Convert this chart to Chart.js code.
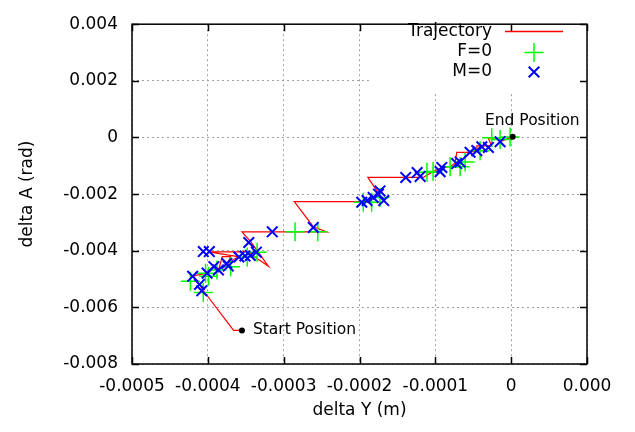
<!DOCTYPE html>
<html><head><meta charset="utf-8">
<script src="https://cdn.jsdelivr.net/npm/chart.js@4.4.0/dist/chart.umd.min.js"></script>
<style>html,body{margin:0;padding:0;background:#fff}#wrap{width:635px;height:432px}</style>
</head><body><div id="wrap"><canvas id="c" width="635" height="432"></canvas></div>
<script>
// ---- data ----
const trajX = [-0.000355,-0.000366,-0.000406,-0.000411,-0.000419,-0.000401,-0.000393,-0.000386,-0.000381,-0.000370,-0.000374,-0.000360,-0.000399,-0.000348,-0.000320,-0.000344,-0.000355,-0.000243,-0.000261,-0.000286,-0.000195,-0.000183,-0.000173,-0.000177,-0.000189,-0.000116,-0.000103,-0.0000924,-0.0000805,-0.0000739,-0.0000717,-0.0000542,-0.0000449,-0.0000453,-0.0000256,-0.0000304,-0.0000146,-0.0000146,0.000002];
const trajY = [-0.006815,-0.006815,-0.005405,-0.005200,-0.004893,-0.004791,-0.004552,-0.004688,-0.004210,-0.004210,-0.004449,-0.004210,-0.004040,-0.004040,-0.004552,-0.003664,-0.003333,-0.003333,-0.003152,-0.002264,-0.002264,-0.002162,-0.001923,-0.001889,-0.001411,-0.001411,-0.001206,-0.001070,-0.001035,-0.000899,-0.000523,-0.000523,-0.000455,-0.000295,-0.000295,-0.000011,-0.000011,-0.000148,0.000023];
const fX = [-0.000423,-0.000406,-0.000403,-0.000399,-0.000388,-0.000370,-0.000348,-0.000335,-0.000285,-0.000255,-0.000195,-0.000184,-0.000173,-0.000111,-0.000103,-0.0000805,-0.0000673,-0.0000607,-0.0000410,-0.0000256,-0.0000146,-0.0000014];
const fY = [-0.005074,-0.005474,-0.004791,-0.004903,-0.004678,-0.004562,-0.004221,-0.004050,-0.003333,-0.003333,-0.002288,-0.002288,-0.002118,-0.001230,-0.001206,-0.001035,-0.001035,-0.000865,-0.000465,-0.000011,-0.000069,0.000013];
const mX = [-0.000420,-0.000411,-0.000408,-0.000401,-0.000406,-0.000398,-0.000392,-0.000386,-0.000375,-0.000373,-0.000359,-0.000351,-0.000346,-0.000344,-0.000336,-0.000315,-0.000261,-0.000197,-0.000190,-0.000182,-0.000175,-0.000173,-0.000168,-0.000139,-0.000124,-0.000120,-0.0000937,-0.0000915,-0.0000717,-0.0000673,-0.0000542,-0.0000453,-0.0000387,-0.0000300,-0.0000146];
const mY = [-0.004903,-0.005190,-0.005416,-0.004791,-0.004029,-0.004029,-0.004562,-0.004678,-0.004449,-0.004542,-0.004221,-0.004186,-0.003709,-0.004166,-0.004050,-0.003333,-0.003176,-0.002288,-0.002230,-0.002118,-0.002002,-0.001889,-0.002230,-0.001411,-0.001240,-0.001377,-0.001206,-0.001059,-0.000923,-0.000865,-0.000523,-0.000465,-0.000329,-0.000353,-0.000148];
const posX = [-0.000355, 0.000002];
const posY = [-0.006815, 0.000023];
const posLabels = ['Start Position', 'End Position'];
const xTickValues = [-0.0005,-0.0004,-0.0003,-0.0002,-0.0001,0,0.0001];
const xTickLabels = ['-0.0005','-0.0004','-0.0003','-0.0002','-0.0001','0','0.000'];
const yTickValues = [-0.008,-0.006,-0.004,-0.002,0,0.002,0.004];
const yTickLabels = ['-0.008','-0.006','-0.004','-0.002','0','0.002','0.004'];
const seriesNames = ['Trajectory','F=0','M=0'];
const xTitle = 'delta Y (m)';
const yTitle = 'delta A (rad)';

const FONT = "'DejaVu Sans', Verdana, sans-serif";
const FS = 17;
const RED = '#ff0000', GREEN = '#00ff00', BLUE = '#0000ff';
const GRID = '#a0a0a0';

const zip = (a, b) => a.map((v, i) => ({x: v, y: b[i]}));
const labelFor = (vals, labs) => (v) => { const i = vals.findIndex(t => Math.abs(t - v) < 1e-12); return i >= 0 ? labs[i] : ''; };

function drawMarker(ctx, style, x, y, r, color, lw) {
  ctx.save(); ctx.strokeStyle = color; ctx.lineWidth = lw; ctx.beginPath();
  if (style === 'cross') { ctx.moveTo(x - r, y); ctx.lineTo(x + r, y); ctx.moveTo(x, y - r); ctx.lineTo(x, y + r); }
  else { const d = r * Math.SQRT1_2; ctx.moveTo(x - d, y - d); ctx.lineTo(x + d, y + d); ctx.moveTo(x + d, y - d); ctx.lineTo(x - d, y + d); }
  ctx.stroke(); ctx.restore();
}

const framePlugin = {
  id: 'frame',
  beforeDatasetsDraw(chart) {
    const {ctx, chartArea: a, scales: {x, y}} = chart;
    ctx.save();
    // legend box (opaque)
    ctx.fillStyle = '#fff';
    ctx.fillRect(370, a.top, a.right - 370, 68);
    // frame
    ctx.strokeStyle = '#000'; ctx.lineWidth = 1.5;
    ctx.strokeRect(a.left, a.top, a.right - a.left, a.bottom - a.top);
    // inward ticks on all sides
    ctx.lineWidth = 1.5; ctx.beginPath();
    const TL = 7;
    xTickValues.forEach(v => { const px = Math.round(x.getPixelForValue(v)) + 0.5;
      ctx.moveTo(px, a.bottom); ctx.lineTo(px, a.bottom - TL); ctx.moveTo(px, a.top); ctx.lineTo(px, a.top + TL); });
    yTickValues.forEach(v => { const py = Math.round(y.getPixelForValue(v)) + 0.5;
      ctx.moveTo(a.left, py); ctx.lineTo(a.left + TL, py); ctx.moveTo(a.right, py); ctx.lineTo(a.right - TL, py); });
    ctx.stroke();
    // legend
    ctx.fillStyle = '#000'; ctx.font = FS + 'px ' + FONT; ctx.textAlign = 'right'; ctx.textBaseline = 'middle';
    const rows = [32, 52, 72];
    seriesNames.forEach((n, i) => ctx.fillText(n, 492, rows[i]));
    ctx.strokeStyle = RED; ctx.lineWidth = 1.5; ctx.beginPath(); ctx.moveTo(505, 31.5); ctx.lineTo(563, 31.5); ctx.stroke();
    drawMarker(ctx, 'cross', 534, 52.5, 9.5, GREEN, 1.5);
    drawMarker(ctx, 'crossRot', 534, 72, 7.5, BLUE, 2);
    ctx.restore();
  },
  afterDatasetsDraw(chart) {
    const {ctx, scales: {x, y}} = chart;
    ctx.save();
    ctx.fillStyle = '#000'; ctx.font = '15.5px ' + FONT; ctx.textBaseline = 'middle';
    const sx = x.getPixelForValue(posX[0]), sy = y.getPixelForValue(posY[0]);
    ctx.textAlign = 'left'; ctx.fillText(posLabels[0], sx + 11, sy);
    const ex = x.getPixelForValue(posX[1]), ey = y.getPixelForValue(posY[1]);
    ctx.textAlign = 'right'; ctx.fillText(posLabels[1], ex + 67, ey - 16);
    ctx.restore();
  }
};

new Chart(document.getElementById('c'), {
  type: 'scatter',
  data: { datasets: [
    { label: 'ends', data: zip(posX, posY), pointStyle: 'circle', pointRadius: 3, backgroundColor: '#000', borderColor: '#000', borderWidth: 0, order: 0 },
    { label: seriesNames[2], data: zip(mX, mY), pointStyle: 'crossRot', pointRadius: 7.5, borderColor: BLUE, borderWidth: 2, order: 1 },
    { label: seriesNames[1], data: zip(fX, fY), pointStyle: 'cross', pointRadius: 9.5, borderColor: GREEN, borderWidth: 1.5, order: 2 },
    { label: seriesNames[0], data: zip(trajX, trajY), showLine: true, borderColor: RED, borderWidth: 1.2, pointRadius: 0, order: 3 }
  ]},
  options: {
    responsive: false, animation: false, devicePixelRatio: 1,
    layout: { padding: { left: 0, right: 48, top: 12, bottom: 0 } },
    plugins: { legend: { display: false }, tooltip: { enabled: false } },
    scales: {
      x: { type: 'linear', min: -0.0005, max: 0.0001,
        afterFit: s => { s.height = 68; },
        afterBuildTicks: s => { s.ticks = xTickValues.map(v => ({value: v})); },
        ticks: { callback: labelFor(xTickValues, xTickLabels), color: '#000', font: { family: FONT, size: FS }, padding: 12, maxRotation: 0, autoSkip: false },
        grid: { color: GRID, drawTicks: false, lineWidth: 1 },
        border: { display: false, dash: [2, 3] },
        title: { display: true, text: xTitle, color: '#000', font: { family: FONT, size: FS }, padding: { top: 0, bottom: 11 } } },
      y: { type: 'linear', min: -0.008, max: 0.004,
        afterFit: s => { s.width = 132; },
        afterBuildTicks: s => { s.ticks = yTickValues.map(v => ({value: v})); },
        ticks: { callback: labelFor(yTickValues, yTickLabels), color: '#000', font: { family: FONT, size: FS }, padding: 14, autoSkip: false },
        grid: { color: GRID, drawTicks: false, lineWidth: 1 },
        border: { display: false, dash: [2, 3] },
        title: { display: true, text: yTitle, color: '#000', font: { family: FONT, size: FS }, padding: { top: 17, bottom: 0 } } }
    }
  },
  plugins: [framePlugin]
});
</script></body></html>
